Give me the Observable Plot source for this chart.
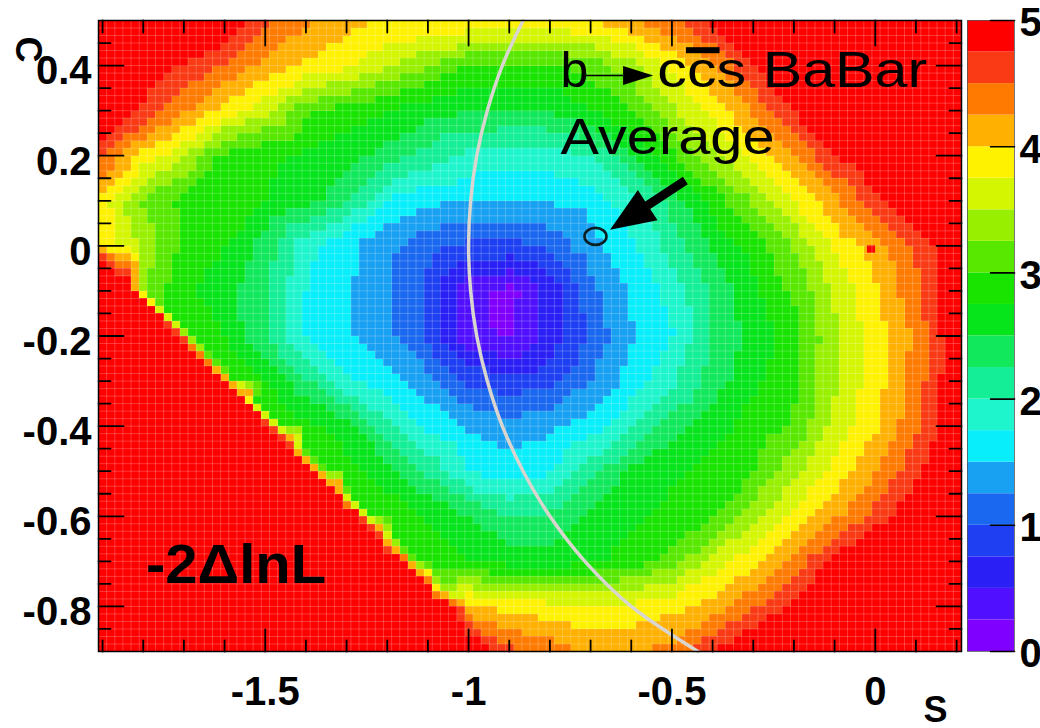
<!DOCTYPE html>
<html>
<head>
<meta charset="utf-8">
<script src="https://cdn.jsdelivr.net/npm/d3@7"></script>
<script src="https://cdn.jsdelivr.net/npm/@observablehq/plot@0.6"></script>
<style>
  html, body { margin: 0; padding: 0; background: #fff; }
  #chart { display: flex; width: 1040px; height: 728px; background: #fff; }
  #chart svg { display: block; }
</style>
</head>
<body>
<div id="chart"></div>
<script>
// ---------- data ----------
const S_GRID = [-1.9, -1.8, -1.7, -1.6, -1.5, -1.4, -1.3, -1.2, -1.1, -1.0, -0.9, -0.8, -0.7, -0.6, -0.5, -0.4, -0.3, -0.2, -0.1, 0.0, 0.1, 0.2];
const C_GRID = [0.5, 0.4, 0.3, 0.2, 0.1, 0.0, -0.1, -0.2, -0.3, -0.4, -0.5, -0.6, -0.7, -0.8, -0.9];

// -2 Delta lnL, one array per C row (columns follow S_GRID)
const rowC_p050 = [6.2, 5.8, 5.4, 5.0, 4.55, 4.29, 4.1, 3.99, 3.97, 3.96, 3.95, 3.96, 3.99, 4.22, 4.47, 4.85, 5.2, 5.55, 5.9, 6.25, 6.6, 6.95];
const rowC_p040 = [5.3, 5.0, 4.73, 4.46, 4.18, 3.96, 3.8, 3.56, 3.26, 3.0, 2.95, 2.97, 3.1, 3.4, 3.8, 4.21, 4.76, 5.1, 5.45, 5.8, 6.15, 6.5];
const rowC_p030 = [5.15, 4.7, 4.3, 3.9, 3.57, 3.06, 2.88, 2.75, 2.6, 2.52, 2.5, 2.52, 2.72, 3.0, 3.46, 3.84, 4.29, 4.78, 5.1, 5.45, 5.8, 6.15];
const rowC_p020 = [4.55, 3.93, 3.54, 2.92, 2.8, 2.7, 2.58, 2.4, 2.15, 1.92, 1.85, 1.87, 2.0, 2.45, 2.95, 3.42, 3.84, 4.25, 4.73, 5.1, 5.45, 5.8];
const rowC_p010 = [3.85, 3.2, 2.92, 2.85, 2.75, 2.62, 2.3, 1.72, 1.56, 1.52, 1.5, 1.53, 1.6, 1.9, 2.35, 2.85, 3.28, 3.78, 4.18, 4.7, 5.1, 5.45];
const rowC_000  = [3.98, 3.44, 2.92, 2.75, 2.4, 1.85, 1.56, 1.3, 1.08, 0.95, 0.9, 1.1, 1.42, 1.72, 2.1, 2.55, 2.85, 3.26, 3.8, 4.15, 4.55, 5.0];
const rowC_m010 = [7.0, 3.3, 2.8, 2.6, 2.3, 1.75, 1.55, 1.27, 0.95, 0.35, 0.15, 0.6, 1.15, 1.53, 1.85, 2.3, 2.7, 3.05, 3.55, 3.97, 4.44, 5.0];
const rowC_m020 = [8.0, 7.0, 4.15, 2.75, 2.25, 1.72, 1.55, 1.3, 0.95, 0.35, 0.2, 0.6, 1.05, 1.48, 1.73, 2.25, 2.6, 2.9, 3.45, 3.88, 4.32, 5.0];
const rowC_m030 = [8.0, 8.0, 6.5, 4.7, 2.75, 2.3, 1.8, 1.6, 1.35, 0.95, 0.85, 0.95, 1.25, 1.6, 1.95, 2.35, 2.7, 2.95, 3.45, 3.89, 4.35, 5.0];
const rowC_m040 = [8.0, 8.0, 8.0, 6.0, 5.1, 2.8, 2.6, 2.1, 1.7, 1.48, 1.35, 1.45, 1.62, 1.95, 2.4, 2.65, 2.85, 3.03, 3.59, 3.97, 4.45, 5.0];
const rowC_m050 = [8.0, 8.0, 8.0, 8.0, 6.5, 5.3, 2.85, 2.6, 2.2, 1.72, 1.62, 1.7, 2.15, 2.55, 2.7, 2.85, 2.98, 3.41, 3.84, 4.21, 4.69, 5.2];
const rowC_m060 = [8.0, 8.0, 8.0, 8.0, 8.0, 7.0, 5.5, 2.95, 2.72, 2.5, 2.25, 2.3, 2.55, 2.7, 2.82, 2.97, 3.41, 3.82, 4.19, 4.6, 5.0, 5.5];
const rowC_m070 = [8.0, 8.0, 8.0, 8.0, 8.0, 8.0, 7.0, 5.6, 2.95, 2.75, 2.62, 2.6, 2.7, 2.85, 3.11, 3.57, 3.94, 4.35, 4.85, 5.3, 5.8, 6.3];
const rowC_m080 = [8.0, 8.0, 8.0, 8.0, 8.0, 8.0, 8.0, 7.0, 5.8, 4.1, 3.9, 3.85, 3.8, 3.82, 3.92, 4.12, 4.45, 4.8, 5.2, 5.6, 6.0, 6.4];
const rowC_m090 = [8.0, 8.0, 8.0, 8.0, 8.0, 8.0, 8.0, 8.0, 7.0, 5.2, 4.6, 4.4, 4.22, 4.22, 4.35, 4.75, 5.1, 5.5, 5.9, 6.3, 6.7, 7.1];
const LNL_ROWS = [rowC_p050, rowC_p040, rowC_p030, rowC_p020, rowC_p010, rowC_000, rowC_m010, rowC_m020,
                  rowC_m030, rowC_m040, rowC_m050, rowC_m060, rowC_m070, rowC_m080, rowC_m090];

// values read on both sides of the sharp lower-left edge
const EDGE_C     = [-0.088, -0.139, -0.190, -0.241, -0.292, -0.343, -0.394, -0.445, -0.496, -0.547, -0.598, -0.649, -0.700, -0.751];
const EDGE_S_OUT = [-1.841, -1.785, -1.728, -1.672, -1.615, -1.558, -1.502, -1.445, -1.389, -1.332, -1.276, -1.219, -1.163, -1.106];
const EDGE_V_OUT = [5.0, 5.0, 5.0, 5.0, 5.0, 5.0, 5.0, 5.0, 5.0, 5.0, 5.0, 5.0, 5.0, 5.0];
const EDGE_S_IN  = [-1.807, -1.750, -1.694, -1.637, -1.581, -1.524, -1.467, -1.411, -1.354, -1.298, -1.241, -1.185, -1.128, -1.072];
const EDGE_V_IN  = [3.3, 3.0, 3.0, 3.0, 3.0, 3.0, 3.0, 3.0, 3.0, 3.0, 3.0, 3.0, 3.0, 3.3];

// single odd cell near S=0, C=0
const GLITCH_S = [-0.0093];
const GLITCH_C = [-0.008];
const GLITCH_V = [5.0];

// physical boundary arc (light grey line)
const ARC_C = [0.5, 0.4, 0.3, 0.2, 0.1, 0.0, -0.1, -0.2, -0.3, -0.4, -0.5, -0.6, -0.7, -0.8, -0.9];
const ARC_S = [-0.866, -0.917, -0.954, -0.980, -0.995, -1.0, -0.995, -0.980, -0.954, -0.917, -0.866, -0.800, -0.714, -0.600, -0.436];

// BaBar average marker
const BABAR_S = [-0.688];
const BABAR_C = [0.021];

// colour levels (ROOT pretty palette, 20 contours 0..5)
const LEVEL_BREAKS = [0.25, 0.5, 0.75, 1, 1.25, 1.5, 1.75, 2, 2.25, 2.5, 2.75, 3, 3.25, 3.5, 3.75, 4, 4.25, 4.5, 4.75];
const LEVEL_COLORS = ["#8000ff", "#5010ff", "#2a20f6", "#1e40f2", "#1a68f0", "#18a0f2", "#08eefa", "#1ef5cc", "#14ee96", "#12e85c",
                      "#06e41c", "#18e400", "#58e800", "#98f000", "#d4f600", "#fff200", "#ffb000", "#ff7a00", "#fa3a14", "#ff0000"];
const BAR_LEVELS = [0, 0.25, 0.5, 0.75, 1, 1.25, 1.5, 1.75, 2, 2.25, 2.5, 2.75, 3, 3.25, 3.5, 3.75, 4, 4.25, 4.5, 4.75];

// ticks
const X_TICKS = [-1.5, -1, -0.5, 0];
const X_MINOR = [-1.9, -1.8, -1.7, -1.6, -1.4, -1.3, -1.2, -1.1, -0.9, -0.8, -0.7, -0.6, -0.4, -0.3, -0.2, -0.1, 0.1, 0.2];
const Y_TICKS = [0.4, 0.2, 0, -0.2, -0.4, -0.6, -0.8];
const Y_MINOR = [0.45, 0.35, 0.3, 0.25, 0.15, 0.1, 0.05, -0.05, -0.1, -0.15, -0.25, -0.3, -0.35, -0.45, -0.5, -0.55, -0.65, -0.7, -0.75, -0.85];
const BAR_TICKS = [0, 1, 2, 3, 4, 5];

// annotation anchors (data coordinates)
const NOTE_B       = {S: -0.774, C: 0.352, t: "b"};
const NOTE_CCS     = {S: -0.536, C: 0.352, t: "ccs BaBar"};
const NOTE_AVG     = {S: -0.774, C: 0.204, t: "Average"};
const NOTE_LNL     = {S: -1.793, C: -0.747, t: "-2\u0394lnL"};
const ARROW_SMALL  = {S: -0.7135, C: 0.378};
const ARROW_BIG    = {S: -0.467, C: 0.145};

// ---------- build tables ----------
const points = [];
LNL_ROWS.forEach((row, i) => row.forEach((v, j) => points.push({S: S_GRID[j], C: C_GRID[i], v})));
EDGE_C.forEach((c, i) => {
  points.push({S: EDGE_S_OUT[i], C: c, v: EDGE_V_OUT[i]});
  points.push({S: EDGE_S_IN[i], C: c, v: EDGE_V_IN[i]});
});
const arc = ARC_C.map((c, i) => ({S: ARC_S[i], C: c}));
const glitch = GLITCH_S.map((s, i) => ({S: s, C: GLITCH_C[i], v: GLITCH_V[i]}));
const babar = BABAR_S.map((s, i) => ({S: s, C: BABAR_C[i]}));

const xDomain = [-1.91, 0.212];
const yDomain = [-0.9, 0.5];
const W = 966, H = 728, ML = 98, MR = 5, MT = 20, MB = 77;
const pxPerS = (W - ML - MR) / (xDomain[1] - xDomain[0]);
const pxPerC = (H - MT - MB) / (yDomain[1] - yDomain[0]);
const NX = 106, NY = 84;
const cellW = (xDomain[1] - xDomain[0]) / NX, cellH = (yDomain[1] - yDomain[0]) / NY;
const cellX = d3.range(1, NX).map(i => xDomain[0] + i * cellW);
const cellY = d3.range(1, NY).map(i => yDomain[0] + i * cellH);

const colorScale = {type: "threshold", domain: LEVEL_BREAKS, range: LEVEL_COLORS};
const FONT = "'Liberation Sans', Arial, Helvetica, sans-serif";

function arrowShape(shaftW, headL, headW) {
  return {
    draw(ctx, l) {
      const b = -(l - headL);
      ctx.moveTo(-shaftW / 2, 0);
      ctx.lineTo(-shaftW / 2, b);
      ctx.lineTo(-headW / 2, b);
      ctx.lineTo(0, -l);
      ctx.lineTo(headW / 2, b);
      ctx.lineTo(shaftW / 2, b);
      ctx.lineTo(shaftW / 2, 0);
      ctx.closePath();
    }
  };
}
const ellipseSymbol = {
  draw(ctx) {
    const rx = 11, ry = 8.5, k = 0.5523;
    ctx.moveTo(rx, 0);
    ctx.bezierCurveTo(rx, ry * k, rx * k, ry, 0, ry);
    ctx.bezierCurveTo(-rx * k, ry, -rx, ry * k, -rx, 0);
    ctx.bezierCurveTo(-rx, -ry * k, -rx * k, -ry, 0, -ry);
    ctx.bezierCurveTo(rx * k, -ry, rx, -ry * k, rx, 0);
    ctx.closePath();
  }
};

// inward tick segments as two-point lines (pixel lengths converted through the scale factors)
const MAJ_Y = 25, MIN_Y = 12, MAJ_X = 22, MIN_X = 11, MAJ_T = 25, MIN_T = 12;
const tickPts = [];
let tid = 0;
function seg(x1, y1, x2, y2) { tid++; tickPts.push({x: x1, y: y1, id: tid}, {x: x2, y: y2, id: tid}); }
Y_TICKS.forEach(v => { seg(xDomain[0], v, xDomain[0] + MAJ_Y / pxPerS, v); seg(xDomain[1] - MAJ_Y / pxPerS, v, xDomain[1], v); });
Y_MINOR.forEach(v => { seg(xDomain[0], v, xDomain[0] + MIN_Y / pxPerS, v); seg(xDomain[1] - MIN_Y / pxPerS, v, xDomain[1], v); });
X_TICKS.forEach(v => { seg(v, yDomain[0], v, yDomain[0] + MAJ_X / pxPerC); seg(v, yDomain[1] - MAJ_T / pxPerC, v, yDomain[1]); });
X_MINOR.forEach(v => { seg(v, yDomain[0], v, yDomain[0] + MIN_X / pxPerC); seg(v, yDomain[1] - MIN_T / pxPerC, v, yDomain[1]); });

const main = Plot.plot({
  width: W, height: H,
  marginLeft: ML, marginRight: MR, marginTop: MT, marginBottom: MB,
  x: {domain: xDomain, label: null},
  y: {domain: yDomain, label: null},
  color: colorScale,
  style: {fontFamily: FONT, background: "white", color: "black", overflow: "visible"},
  marks: [
    Plot.raster(points, {x: "S", y: "C", fill: "v", interpolate: "barycentric",
      x1: xDomain[0], x2: xDomain[1], y1: yDomain[0], y2: yDomain[1],
      width: NX, height: NY, imageRendering: "pixelated"}),
    Plot.rect(glitch, {x1: d => d.S - cellW / 2, x2: d => d.S + cellW / 2, y1: d => d.C - cellH / 2, y2: d => d.C + cellH / 2, fill: "v"}),
    Plot.gridX({ticks: cellX, stroke: "white", strokeOpacity: 0.22, strokeWidth: 1}),
    Plot.gridY({ticks: cellY, stroke: "white", strokeOpacity: 0.22, strokeWidth: 1}),
    Plot.line(arc, {x: "S", y: "C", stroke: "#d9d5cf", strokeWidth: 3.5, curve: "catmull-rom"}),
    Plot.dot(babar, {x: "S", y: "C", r: 10, symbol: ellipseSymbol, fill: "none", stroke: "#0b1f24", strokeWidth: 2.6}),
    Plot.vector([ARROW_BIG], {x: "S", y: "C", anchor: "start", rotate: 236.8, length: 90,
      shape: arrowShape(9, 45, 36), fill: "black", stroke: "none"}),
    Plot.vector([ARROW_SMALL], {x: "S", y: "C", anchor: "start", rotate: 90, length: 68,
      shape: arrowShape(1.6, 30, 19), fill: "black", stroke: "none"}),
    Plot.text([NOTE_B], {x: "S", y: "C", text: "t", textAnchor: "start", lineAnchor: "bottom", fontSize: 50, fill: "black"}),
    Plot.text([NOTE_CCS], {x: "S", y: "C", text: "t", textAnchor: "start", lineAnchor: "bottom", fontSize: 50, fill: "black"}),
    Plot.text([NOTE_AVG], {x: "S", y: "C", text: "t", textAnchor: "start", lineAnchor: "bottom", fontSize: 50, fill: "black"}),
    Plot.text([NOTE_LNL], {x: "S", y: "C", text: "t", textAnchor: "start", lineAnchor: "bottom", fontSize: 56, fontWeight: "bold", fill: "black"}),
    // tick labels
    Plot.axisY({ticks: Y_TICKS, tickSize: 0, tickPadding: 7, tickFormat: d => String(d), stroke: "none",
      fontSize: 40, fontWeight: "bold", dy: 6, label: null}),
    Plot.axisX({ticks: X_TICKS, tickSize: 0, tickPadding: 25, tickFormat: d => String(d), stroke: "none",
      fontSize: 40, fontWeight: "bold", label: null}),
    Plot.frame({stroke: "black", strokeWidth: 1.5}),
    // axis titles
    Plot.text(["S"], {text: d => d, frameAnchor: "bottom-right", lineAnchor: "middle", dx: -14, dy: 59, fontSize: 36, fontWeight: "bold"}),
    Plot.text(["C"], {text: d => d, frameAnchor: "top-left", lineAnchor: "middle", dx: -71, dy: 16, rotate: 90, fontSize: 36, fontWeight: "bold"}),
    // inward ticks on all four sides
    Plot.line(tickPts, {x: "x", y: "y", z: "id", stroke: "#000000", strokeWidth: 1.8})
  ]
});

const barTickPts = [];
BAR_TICKS.forEach((v, i) => { barTickPts.push({x: 0.49, y: v, id: i}, {x: 1, y: v, id: i}); });
const bar = Plot.plot({
  width: 74, height: 728,
  marginLeft: 1, marginRight: 26, marginTop: 20, marginBottom: 77,
  x: {domain: [0, 1], axis: null},
  y: {domain: [0, 5], label: null},
  color: colorScale,
  style: {fontFamily: FONT, background: "white", color: "black", overflow: "visible"},
  marks: [
    Plot.rect(BAR_LEVELS, {x1: 0, x2: 1, y1: d => d, y2: d => d + 0.25, fill: d => d + 0.125}),
    Plot.frame({stroke: "#555", strokeWidth: 0.8}),
    Plot.axisY({anchor: "right", ticks: BAR_TICKS, tickSize: 0, tickPadding: 5, tickFormat: d => String(d), stroke: "none",
      fontSize: 40, fontWeight: "bold", dy: 3, label: null}),
    Plot.line(barTickPts, {x: "x", y: "y", z: "id", stroke: "#000000", strokeWidth: 1.6})
  ]
});

const host = document.getElementById("chart");
host.append(main, bar);

// text fitting and the bar over the anti-charm quark
function findText(svg, content) {
  for (const t of svg.querySelectorAll("text")) if (t.textContent === content) return t;
  return null;
}
const ns = "http://www.w3.org/2000/svg";
const tAvg = findText(main, "Average");
if (tAvg) { tAvg.setAttribute("textLength", 214); tAvg.setAttribute("lengthAdjust", "spacingAndGlyphs"); }
const tL = findText(main, "-2\u0394lnL");
if (tL) { tL.setAttribute("textLength", 180); tL.setAttribute("lengthAdjust", "spacingAndGlyphs"); }
const tC = findText(main, "ccs BaBar");
if (tC) {
  tC.setAttribute("textLength", 270); tC.setAttribute("lengthAdjust", "spacingAndGlyphs");
  try {
    const p0 = tC.getStartPositionOfChar(1);
    const p1 = tC.getEndPositionOfChar(1);
    const r = document.createElementNS(ns, "rect");
    r.setAttribute("x", p0.x - 1);
    r.setAttribute("width", (p1.x - p0.x) + 4);
    r.setAttribute("y", p0.y - 40);
    r.setAttribute("height", 6);
    r.setAttribute("fill", "black");
    const tr = tC.getAttribute("transform");
    if (tr) r.setAttribute("transform", tr);
    tC.parentNode.appendChild(r);
  } catch (e) {}
}
</script>
</body>
</html>
